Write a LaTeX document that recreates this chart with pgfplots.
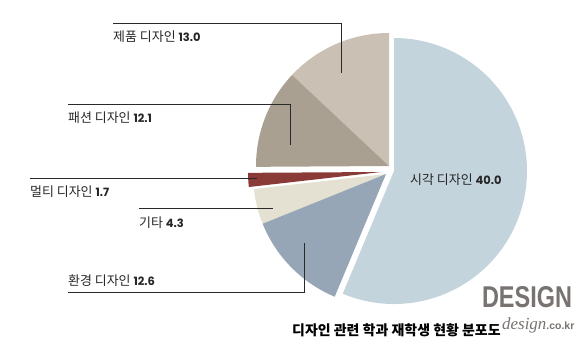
\documentclass[border=0pt]{standalone}
\usepackage{pgfplots}
\pgfplotsset{compat=1.18}
\usepackage{pgfplotstable}
\usepackage{graphicx}
\usepackage{fontspec}
\setmainfont{Noto Sans CJK KR}
\newfontfamily\numf{Poppins}
\newfontfamily\serifit{Liberation Serif}
\newfontfamily\logof{Liberation Sans}
\definecolor{cS}{HTML}{C4D4DD}
\definecolor{cV}{HTML}{96A6B6}
\definecolor{cE}{HTML}{E4E1D2}
\definecolor{cM}{HTML}{8A3B38}
\definecolor{cF}{HTML}{A9A091}
\definecolor{cP}{HTML}{CAC1B4}
\definecolor{lead}{HTML}{2A2A2A}
\definecolor{logo}{HTML}{787270}
% share = slice share in percent (counter-clockwise from 12 o'clock);
% the 시각 디자인 slice (labelled 40.0) fills the remainder to 100
\pgfplotstableread{
name share pdx pdy pcol
product 13.0 -1 -4 cP
fashion 12.1 -1 -4 cF
multi 1.7 -9 2 cM
other 4.3 -4 4 cE
environ 12.6 -4 4 cV
visual 56.3 4 1 cS
}\pietable
\begin{document}
\begin{tikzpicture}
\begin{axis}[at={(0,0)}, anchor=south west, scale only axis,
  width=585bp, height=350bp, xmin=0, xmax=585, ymin=0, ymax=350,
  y dir=reverse, hide axis, clip=false]
\def\angstart{90}
\pgfplotsforeachungrouped \i in {0,...,5}{%
  \pgfplotstablegetelem{\i}{share}\of\pietable \let\psh\pgfplotsretval
  \pgfplotstablegetelem{\i}{pdx}\of\pietable \let\pdx\pgfplotsretval
  \pgfplotstablegetelem{\i}{pdy}\of\pietable \let\pdy\pgfplotsretval
  \pgfplotstablegetelem{\i}{pcol}\of\pietable \let\pcol\pgfplotsretval
  \pgfmathsetmacro\angend{\angstart+3.6*\psh}%
  \pgfmathsetmacro\pax{390+\pdx}%
  \pgfmathsetmacro\pay{170+\pdy}%
  \edef\temp{\noexpand\fill[\pcol] (axis cs:\pax,\pay) -- ++(\angstart:133bp) arc[start angle=\angstart, end angle=\angend, radius=133bp] -- cycle;}%
  \temp
  \let\angstart\angend
}
% leader lines
\draw[lead, line width=1bp] (axis cs:113,23) -- (axis cs:341,23) -- (axis cs:341,73);
\draw[lead, line width=1bp] (axis cs:68,104) -- (axis cs:290,104) -- (axis cs:290,145);
\draw[lead, line width=1bp] (axis cs:30,178) -- (axis cs:257,178);
\draw[lead, line width=1bp] (axis cs:139,208) -- (axis cs:273,208);
\draw[lead, line width=1bp] (axis cs:68,292) -- (axis cs:304,292) -- (axis cs:304,243);
% labels
\tikzset{lab/.style={anchor=west, inner sep=0pt, font=\fontsize{13}{15}\selectfont, text=black!85}}
\newcommand\num[1]{{\numf\bfseries\fontsize{11.5}{13}\selectfont #1}}
\node[lab] at (axis cs:113,37) {제품 디자인 \num{13.0}};
\node[lab] at (axis cs:68,118) {패션 디자인 \num{12.1}};
\node[lab] at (axis cs:30,192) {멀티 디자인 \num{1.7}};
\node[lab] at (axis cs:139,223) {기타 \num{4.3}};
\node[lab] at (axis cs:68,281) {환경 디자인 \num{12.6}};
\node[lab] at (axis cs:410,180) {시각 디자인 \num{40.0}};
\node[anchor=west, inner sep=0pt, font=\bfseries\fontsize{14}{16}\selectfont] at (axis cs:292,330) {디자인 관련 학과 재학생 현황 분포도};
\node[inner sep=0pt, text=logo] at (axis cs:527,297.5) {\resizebox{90bp}{21bp}{\logof\bfseries DESIGN}};
\node[anchor=west, inner sep=0pt, text=logo] at (axis cs:502,325) {{\serifit\itshape\fontsize{17}{18}\selectfont design}{\logof\bfseries\fontsize{10.5}{12}\selectfont .co.kr}};
\end{axis}
\pgfresetboundingbox
\useasboundingbox (0,0) rectangle (585bp,350bp);
\end{tikzpicture}
\end{document}
